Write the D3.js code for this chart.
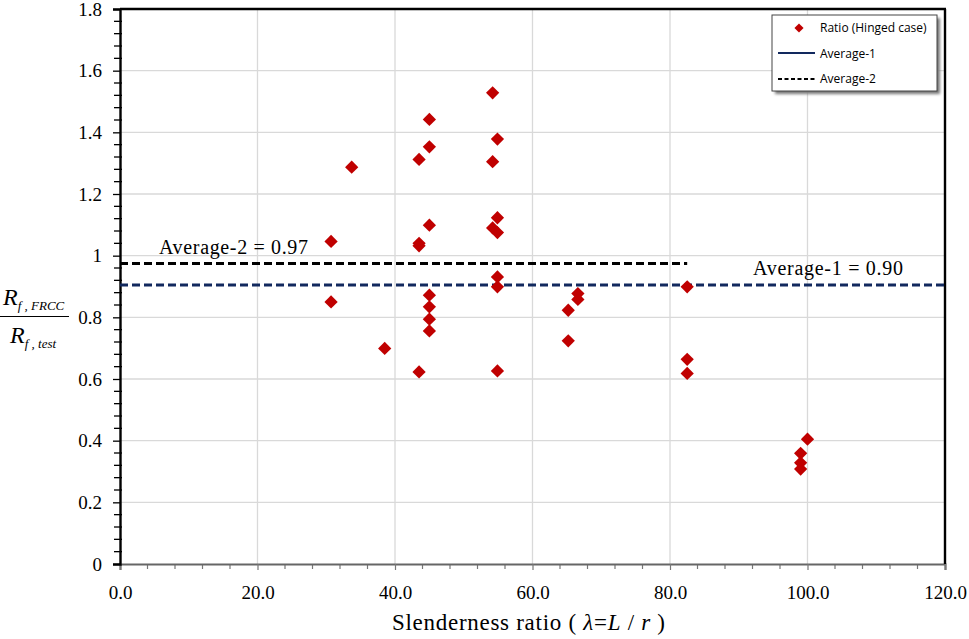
<!DOCTYPE html>
<html><head><meta charset="utf-8">
<script src="https://cdn.jsdelivr.net/npm/d3@7"></script>
<style>html,body{margin:0;padding:0;background:#fff;}svg{display:block;}</style>
</head><body>
<svg id="chart" width="969" height="639"></svg>
<script>
// ---- data ----
const slenderness = [30.7, 30.7, 33.7, 38.5, 43.5, 43.5, 43.5, 43.5, 45.0, 45.0, 45.0, 45.0, 45.0, 45.0, 45.0,
  54.2, 54.2, 54.2, 54.9, 54.9, 54.9, 54.9, 54.9, 54.9, 65.2, 65.2, 66.6, 66.6, 82.5, 82.5, 82.5, 100.0, 99.0, 99.0, 99.0];
const ratio = [0.850, 1.046, 1.287, 0.699, 0.623, 1.040, 1.032, 1.312, 1.442, 1.353, 1.099, 0.872, 0.834, 0.794, 0.756,
  1.528, 1.305, 1.090, 1.378, 1.123, 1.075, 0.931, 0.899, 0.626, 0.823, 0.724, 0.877, 0.858, 0.899, 0.664, 0.618, 0.405, 0.359, 0.328, 0.308];
const average1 = {value: 0.905, from: 0, to: 120, label: "Average-1 = 0.90"};
const average2 = {value: 0.975, from: 0, to: 82.5, label: "Average-2 = 0.97"};
const xTicks = [0, 20, 40, 60, 80, 100, 120];
const xTickLabels = ["0.0", "20.0", "40.0", "60.0", "80.0", "100.0", "120.0"];
const yTicks = [0, 0.2, 0.4, 0.6, 0.8, 1, 1.2, 1.4, 1.6, 1.8];
const yTickLabels = ["0", "0.2", "0.4", "0.6", "0.8", "1", "1.2", "1.4", "1.6", "1.8"];
const legendLabels = ["Ratio (Hinged case)", "Average-1", "Average-2"];

// ---- layout ----
const L = 120, R = 945, T = 9, B = 564;
const svg = d3.select("#chart");
const x = d3.scaleLinear().domain([0, 120]).range([L, R]);
const y = d3.scaleLinear().domain([0, 1.8]).range([B, T]);
const serif = "'Liberation Serif', 'Times New Roman', Tinos, serif";
const sans = "'Open Sans', 'Liberation Sans', sans-serif";

// grid
svg.append("g").selectAll("line").data(xTicks.filter(d => d > 0 && d < 120)).join("line")
  .attr("x1", d => x(d)).attr("x2", d => x(d)).attr("y1", T).attr("y2", B)
  .attr("stroke", "#d9d9d9").attr("stroke-width", 1.3);
svg.append("g").selectAll("line").data(yTicks.filter(d => d > 0 && d < 1.8)).join("line")
  .attr("x1", L).attr("x2", R).attr("y1", d => y(d)).attr("y2", d => y(d))
  .attr("stroke", "#d9d9d9").attr("stroke-width", 1.3);

// minor ticks
const xMinor = d3.range(0, 121, 4).filter(d => d % 20 !== 0);
svg.append("g").selectAll("line").data(xMinor).join("line")
  .attr("x1", d => x(d)).attr("x2", d => x(d)).attr("y1", B).attr("y2", B + 5)
  .attr("stroke", "#777").attr("stroke-width", 1.2);
const yMinor = d3.range(0, 46).map(i => i * 0.04).filter(d => Math.abs(d / 0.2 - Math.round(d / 0.2)) > 0.01 && d < 1.8);
svg.append("g").selectAll("line").data(yMinor).join("line")
  .attr("x1", L - 6).attr("x2", L + 2).attr("y1", d => y(d)).attr("y2", d => y(d))
  .attr("stroke", "#000").attr("stroke-width", 1.3);

// axes via d3
const xAxis = svg.append("g").attr("transform", `translate(0,${B})`)
  .call(d3.axisBottom(x).tickValues(xTicks).tickFormat((d, i) => xTickLabels[i]).tickSize(6).tickPadding(16));
xAxis.attr("font-family", null);
xAxis.select(".domain").attr("stroke", "#666").attr("stroke-width", 2.2);
xAxis.selectAll(".tick line").attr("stroke", "#777").attr("stroke-width", 1.2);
xAxis.selectAll(".tick text").style("font-family", serif).style("font-size", "19px").attr("fill", "#000");

const yAxis = svg.append("g").attr("transform", `translate(${L},0)`)
  .call(d3.axisLeft(y).tickValues(yTicks).tickFormat((d, i) => yTickLabels[i]).tickSize(7).tickPadding(11));
yAxis.attr("font-family", null);
yAxis.select(".domain").attr("stroke", "#000").attr("stroke-width", 2.4);
yAxis.selectAll(".tick line").attr("stroke", "#000").attr("stroke-width", 1.3);
yAxis.selectAll(".tick text").style("font-family", serif).style("font-size", "19px").attr("fill", "#000");

// top & right border
svg.append("line").attr("x1", L).attr("x2", R + 1).attr("y1", T).attr("y2", T).attr("stroke", "#000").attr("stroke-width", 2.4);
svg.append("line").attr("x1", R).attr("x2", R).attr("y1", T).attr("y2", B).attr("stroke", "#000").attr("stroke-width", 2.4);

// average lines
svg.append("line").attr("x1", x(average2.from)).attr("x2", x(average2.to))
  .attr("y1", y(average2.value)).attr("y2", y(average2.value))
  .attr("stroke", "#000").attr("stroke-width", 3).attr("stroke-dasharray", "8,4");
svg.append("line").attr("x1", x(average1.from)).attr("x2", x(average1.to))
  .attr("y1", y(average1.value)).attr("y2", y(average1.value))
  .attr("stroke", "#12295e").attr("stroke-width", 3).attr("stroke-dasharray", "8,4");

// labels
svg.append("text").attr("x", 159).attr("y", 254).style("font-family", serif).style("font-size", "20px")
  .attr("textLength", 149).text(average2.label);
svg.append("text").attr("x", 753).attr("y", 275).style("font-family", serif).style("font-size", "20px")
  .attr("textLength", 150).text(average1.label);

// points
const pts = slenderness.map((s, i) => ({s, r: ratio[i]}));
const diamond = d3.symbol().type(d3.symbolSquare).size(88);
svg.append("g").selectAll("path").data(pts).join("path")
  .attr("d", diamond)
  .attr("transform", d => `translate(${x(d.s)},${y(d.r)}) rotate(45)`)
  .attr("fill", "#c00000");

// legend
const defs = svg.append("defs");
const f = defs.append("filter").attr("id", "sh").attr("x", "-10%").attr("y", "-10%").attr("width", "130%").attr("height", "140%");
f.append("feGaussianBlur").attr("stdDeviation", 1.5);
const lg = svg.append("g");
lg.append("rect").attr("x", 775).attr("y", 18).attr("width", 165).attr("height", 76).attr("fill", "#777").attr("filter", "url(#sh)");
lg.append("rect").attr("x", 772).attr("y", 15).attr("width", 165).attr("height", 76).attr("fill", "#fff").attr("stroke", "#444").attr("stroke-width", 1);
lg.append("path").attr("d", d3.symbol().type(d3.symbolSquare).size(42)).attr("transform", "translate(799,28) rotate(45)").attr("fill", "#c00000");
lg.append("line").attr("x1", 778).attr("x2", 815).attr("y1", 53).attr("y2", 53).attr("stroke", "#12295e").attr("stroke-width", 2);
lg.append("line").attr("x1", 778).attr("x2", 815).attr("y1", 79).attr("y2", 79).attr("stroke", "#000").attr("stroke-width", 2).attr("stroke-dasharray", "4,2.5");
lg.selectAll("text").data(legendLabels).join("text")
  .attr("x", 820).attr("y", (d, i) => 32 + i * 25.5)
  .style("font-family", sans).style("font-size", "12px").attr("fill", "#000").text(d => d);

// x title
const xt = svg.append("text").attr("x", 392).attr("y", 630).style("font-family", serif).style("font-size", "23px").attr("fill", "#000")
  .attr("textLength", 273).attr("lengthAdjust", "spacing");
xt.append("tspan").text("Slenderness ratio ( ");
xt.append("tspan").attr("font-style", "italic").text("λ");
xt.append("tspan").text("=");
xt.append("tspan").attr("font-style", "italic").text("L");
xt.append("tspan").text(" / ");
xt.append("tspan").attr("font-style", "italic").text("r");
xt.append("tspan").text(" )");

// y title (fraction)
const num = svg.append("text").attr("x", 3).attr("y", 305).style("font-family", serif).attr("font-style", "italic").style("font-size", "24px");
num.append("tspan").text("R");
num.append("tspan").style("font-size", "13px").attr("dy", 5).text("f , FRCC");
svg.append("line").attr("x1", 0).attr("x2", 69).attr("y1", 316.5).attr("y2", 316.5).attr("stroke", "#000").attr("stroke-width", 1);
const den = svg.append("text").attr("x", 10).attr("y", 343).style("font-family", serif).attr("font-style", "italic").style("font-size", "24px");
den.append("tspan").text("R");
den.append("tspan").style("font-size", "13px").attr("dy", 5).text("f , test");
</script>
</body></html>
